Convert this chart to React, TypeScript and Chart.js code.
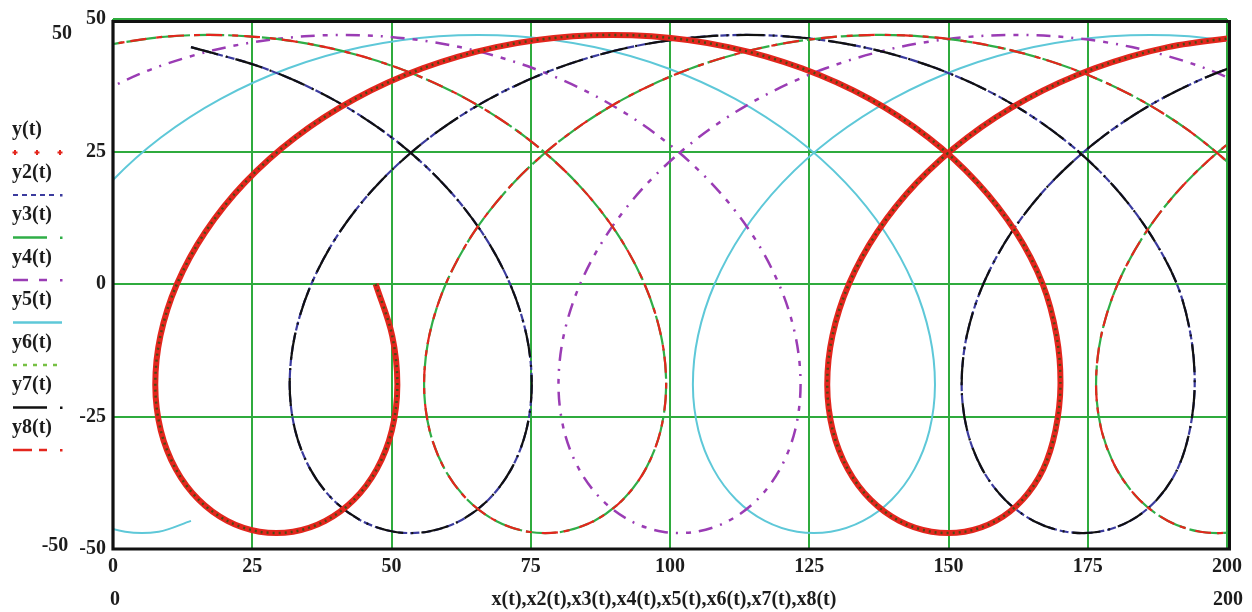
import React, { useEffect, useRef } from 'react';
import { Chart, registerables } from 'chart.js';

Chart.register(...registerables);

// ---- data (trace points, x then y) ----
// y(t)  (red, the y6(t) trace lies exactly on it)
const y1x = [47.16, 50.13, 51.05, 50.06, 47.36, 43.27, 38.12, 32.33, 26.31, 20.52, 15.37, 11.28, 8.58, 7.59, 8.51, 11.48, 16.55, 23.67, 32.71, 43.45, 55.58, 68.77, 82.61, 96.67, 110.51, 123.69, 135.83, 146.4, 155.2, 162.1, 166.9, 169.4, 170.1, 169.2, 167.0, 163.3, 158.5, 152.9, 146.95, 141.16, 136.01, 131.92, 129.22, 128.23, 129.15, 132.12, 137.19, 144.31, 153.35, 164.09, 176.22, 189.41, 203.25];
const y1y = [0, -9.77, -19.12, -27.63, -34.93, -40.7, -44.7, -46.74, -46.74, -44.7, -40.7, -34.93, -27.63, -19.12, -9.77, 0, 9.77, 19.12, 27.63, 34.93, 40.7, 44.7, 46.74, 46.74, 44.7, 40.7, 34.93, 27.63, 19.12, 9.77, 0, -9.77, -19.12, -27.63, -34.93, -40.7, -44.7, -46.74, -46.74, -44.7, -40.7, -34.93, -27.63, -19.12, -9.77, 0, 9.77, 19.12, 27.63, 34.93, 40.7, 44.7, 46.74];

// y2(t) (blue, the black y7(t) trace lies on it)
const y2x = [14.0, 27.18, 39.32, 50.06, 59.1, 66.22, 71.29, 74.26, 75.18, 74.19, 71.49, 67.4, 62.25, 56.46, 50.44, 44.65, 39.5, 35.41, 32.71, 31.72, 32.64, 35.61, 40.68, 47.8, 56.84, 67.58, 79.71, 92.9, 106.74, 120.8, 134.64, 147.82, 159.8, 170.3, 179.1, 186.0, 191.0, 193.5, 194.2, 193.3, 191.1, 187.4, 182.6, 177.0, 171.08, 165.29, 160.14, 156.05, 153.35, 152.36, 153.28, 156.25, 161.32, 168.44, 177.48, 188.22, 200.35, 213.54];
const y2y = [44.7, 40.7, 34.93, 27.63, 19.12, 9.77, 0, -9.77, -19.12, -27.63, -34.93, -40.7, -44.7, -46.74, -46.74, -44.7, -40.7, -34.93, -27.63, -19.12, -9.77, 0, 9.77, 19.12, 27.63, 34.93, 40.7, 44.7, 46.74, 46.74, 44.7, 40.7, 34.93, 27.63, 19.12, 9.77, 0, -9.77, -19.12, -27.63, -34.93, -40.7, -44.7, -46.74, -46.74, -44.7, -40.7, -34.93, -27.63, -19.12, -9.77, 0, 9.77, 19.12, 27.63, 34.93, 40.7, 44.7];

// y3(t) (green, the red y8(t) trace lies on it)
const y3x = [-3.61, 10.23, 24.29, 38.13, 51.31, 63.45, 74.19, 83.23, 90.35, 95.42, 98.39, 99.31, 98.32, 95.62, 91.53, 86.38, 80.59, 74.57, 68.78, 63.63, 59.54, 56.84, 55.85, 56.77, 59.74, 64.81, 71.93, 80.97, 91.71, 103.84, 117.03, 130.87, 144.93, 158.77, 171.95, 184.09, 194.83, 203.87, 210.99, 216.06, 219.03, 219.95, 218.96, 216.26, 212.17, 207.02, 201.23, 195.21, 189.42, 184.27, 180.18, 177.48, 176.49, 177.41, 180.38, 185.45, 192.57, 201.61, 212.35];
const y3y = [44.7, 46.74, 46.74, 44.7, 40.7, 34.93, 27.63, 19.12, 9.77, 0, -9.77, -19.12, -27.63, -34.93, -40.7, -44.7, -46.74, -46.74, -44.7, -40.7, -34.93, -27.63, -19.12, -9.77, 0, 9.77, 19.12, 27.63, 34.93, 40.7, 44.7, 46.74, 46.74, 44.7, 40.7, 34.93, 27.63, 19.12, 9.77, 0, -9.77, -19.12, -27.63, -34.93, -40.7, -44.7, -46.74, -46.74, -44.7, -40.7, -34.93, -27.63, -19.12, -9.77, 0, 9.77, 19.12, 27.63, 34.93];

// y4(t) (purple)
const y4x = [-4.8, 7.34, 20.52, 34.36, 48.42, 62.26, 75.44, 87.58, 98.32, 107.36, 114.48, 119.55, 122.52, 123.44, 122.45, 119.75, 115.66, 110.51, 104.72, 98.7, 92.91, 87.76, 83.67, 80.97, 79.98, 80.9, 83.87, 88.94, 96.06, 105.1, 115.84, 127.97, 141.16, 155.0, 169.06, 182.9, 196.08, 208.22];
const y4y = [34.93, 40.7, 44.7, 46.74, 46.74, 44.7, 40.7, 34.93, 27.63, 19.12, 9.77, 0, -9.77, -19.12, -27.63, -34.93, -40.7, -44.7, -46.74, -46.74, -44.7, -40.7, -34.93, -27.63, -19.12, -9.77, 0, 9.77, 19.12, 27.63, 34.93, 40.7, 44.7, 46.74, 46.74, 44.7, 40.7, 34.93];

// y5(t) (cyan)
const y5x = [14.0, 8.21, 2.19, -3.6, -8.75, -12.84, -15.54, -16.53, -15.61, -12.64, -7.57, -0.45, 8.59, 19.33, 31.47, 44.65, 58.49, 72.55, 86.39, 99.57, 111.71, 122.45, 131.49, 138.61, 143.68, 146.65, 147.57, 146.58, 143.88, 139.79, 134.64, 128.85, 122.83, 117.04, 111.89, 107.8, 105.1, 104.11, 105.03, 108.0, 113.07, 120.19, 129.23, 139.97, 152.1, 165.29, 179.13, 193.19, 207.03];
const y5y = [-44.7, -46.74, -46.74, -44.7, -40.7, -34.93, -27.63, -19.12, -9.77, 0, 9.77, 19.12, 27.63, 34.93, 40.7, 44.7, 46.74, 46.74, 44.7, 40.7, 34.93, 27.63, 19.12, 9.77, 0, -9.77, -19.12, -27.63, -34.93, -40.7, -44.7, -46.74, -46.74, -44.7, -40.7, -34.93, -27.63, -19.12, -9.77, 0, 9.77, 19.12, 27.63, 34.93, 40.7, 44.7, 46.74, 46.74, 44.7];

// y6(t), y7(t), y8(t) coincide with y(t), y2(t), y3(t)
const y6x = y1x; const y6y = y1y;
const y7x = y2x; const y7y = y2y;
const y8x = y3x; const y8y = y3y;

const legendLabels = ['y(t)', 'y2(t)', 'y3(t)', 'y4(t)', 'y5(t)', 'y6(t)', 'y7(t)', 'y8(t)'];
const xAxisTitle = 'x(t),x2(t),x3(t),x4(t),x5(t),x6(t),x7(t),x8(t)';
const xLimitLabels = ['0', '200'];
const yLimitLabels = ['50', '-50'];

const FONT = "'Liberation Serif', 'Times New Roman', serif";
const RED = '#e3261d';
const BLUE = '#3b3b9e';
const GREEN = '#2fae47';
const PURPLE = '#9a3cb4';
const CYAN = '#5ec8d8';
const LGREEN = '#76c043';
const BLACK = '#111111';
const OLIVE = '#4f4a14';
const GRID = '#2fab3e';
const TEXT = '#1c1c1c';

const pts = (xs: number[], ys: number[]) => xs.map((x, i) => ({ x, y: ys[i] }));

const decor = {
  id: 'decor',
  afterDraw(chart: any) {
    const { ctx, chartArea: a } = chart;
    ctx.save();
    // frame
    ctx.strokeStyle = BLACK;
    ctx.lineWidth = 3;
    ctx.setLineDash([]);
    ctx.beginPath();
    ctx.moveTo(a.left, a.top + 2.5);
    ctx.lineTo(a.right + 2.5, a.top + 2.5);
    ctx.lineTo(a.right + 2.5, a.bottom);
    ctx.stroke();
    ctx.lineWidth = 3.2;
    ctx.beginPath();
    ctx.moveTo(a.left, a.top + 1);
    ctx.lineTo(a.left, a.bottom);
    ctx.lineTo(a.right + 4, a.bottom);
    ctx.stroke();

    // limit labels and axis title
    ctx.fillStyle = TEXT;
    ctx.font = `bold 20px ${FONT}`;
    ctx.textAlign = 'center';
    ctx.textBaseline = 'middle';
    ctx.fillText(yLimitLabels[0], 62, 34);
    ctx.fillText(yLimitLabels[1], 55, 546);
    ctx.fillText(xLimitLabels[0], a.left + 2, 600);
    ctx.fillText(xLimitLabels[1], a.right + 1, 600);
    ctx.fillText(xAxisTitle, (a.left + a.right) / 2 - 6, 600);

    // legend
    ctx.textAlign = 'left';
    ctx.font = `bold 20px ${FONT}`;
    legendLabels.forEach((lab, k) => {
      ctx.fillStyle = TEXT;
      ctx.fillText(lab, 12, 130 + 42.5 * k);
      const my = 152.5 + 42.5 * k;
      const seg = (x1: number, x2: number, col: string, w: number, dash: number[] = []) => {
        ctx.strokeStyle = col;
        ctx.lineWidth = w;
        ctx.setLineDash(dash);
        ctx.beginPath();
        ctx.moveTo(x1, my);
        ctx.lineTo(x2, my);
        ctx.stroke();
        ctx.setLineDash([]);
      };
      const dot = (x: number, col: string) => {
        ctx.fillStyle = col;
        ctx.fillRect(x - 1, my - 1, 2.5, 2.5);
      };
      if (k === 0) {
        [15, 37, 60].forEach((x) => {
          ctx.strokeStyle = RED;
          ctx.lineWidth = 2;
          ctx.beginPath();
          ctx.moveTo(x - 2.5, my); ctx.lineTo(x + 2.5, my);
          ctx.moveTo(x, my - 2.5); ctx.lineTo(x, my + 2.5);
          ctx.stroke();
        });
      } else if (k === 1) {
        seg(13, 58, BLUE, 2, [5, 4]);
        dot(61, BLUE);
      } else if (k === 2) {
        seg(13, 47, GREEN, 2.5);
        dot(61, GREEN);
      } else if (k === 3) {
        seg(13, 28, PURPLE, 2.5);
        seg(39, 47, PURPLE, 2.5);
        dot(61, PURPLE);
      } else if (k === 4) {
        seg(13, 62, CYAN, 2.5);
      } else if (k === 5) {
        seg(13, 62, LGREEN, 2.5, [4, 6]);
      } else if (k === 6) {
        seg(13, 47, BLACK, 2.5);
        dot(61, BLACK);
      } else {
        seg(13, 32, RED, 2.5);
        seg(39, 47, RED, 2.5);
        dot(61, RED);
      }
    });
    ctx.restore();
  },
};

const line = (label: string, xs: number[], ys: number[], color: string, width: number, dash: number[], order: number) => ({
  label,
  data: pts(xs, ys),
  showLine: true,
  borderColor: color,
  backgroundColor: color,
  borderWidth: width,
  borderDash: dash,
  pointRadius: 0,
  pointHoverRadius: 0,
  tension: 0.33,
  fill: false,
  clip: 0,
  order,
});

export default function App() {
  const ref = useRef<HTMLCanvasElement>(null);
  useEffect(() => {
    if (!ref.current) return;
    const chart = new Chart(ref.current, {
      type: 'scatter',
      data: {
        datasets: [
          line('y(t)', y1x, y1y, RED, 6, [], 2),
          line('y2(t)', y2x, y2y, BLUE, 2.2, [9, 3], 6),
          line('y3(t)', y3x, y3y, GREEN, 2.2, [30, 4], 4),
          line('y4(t)', y4x, y4y, PURPLE, 2.5, [14, 8, 5, 8, 2, 8], 7),
          line('y5(t)', y5x, y5y, CYAN, 2, [], 8),
          line('y6(t)', y6x, y6y, OLIVE, 2.5, [2, 4], 1),
          line('y7(t)', y7x, y7y, BLACK, 2.2, [28, 8, 2, 8], 5),
          line('y8(t)', y8x, y8y, RED, 2.2, [16, 10, 6, 6], 3),
        ] as any,
      },
      options: {
        animation: false,
        responsive: true,
        maintainAspectRatio: false,
        devicePixelRatio: 1,
        events: [],
        layout: { padding: { top: 17, right: 25, left: 0, bottom: 0 } },
        elements: { line: { capBezierPoints: false } },
        plugins: {
          legend: { display: false },
          tooltip: { enabled: false },
          title: { display: false },
        },
        scales: {
          x: {
            type: 'linear',
            min: 0,
            max: 200,
            afterFit: (s: any) => { s.height = 63; },
            ticks: {
              stepSize: 25,
              padding: 6,
              autoSkip: false,
              maxRotation: 0,
              color: TEXT,
              font: { family: FONT, size: 20, weight: 'bold' },
            },
            grid: { color: GRID, lineWidth: 2, drawTicks: false },
            border: { display: false },
          },
          y: {
            type: 'linear',
            min: -50,
            max: 50,
            afterFit: (s: any) => { s.width = 113; },
            ticks: {
              stepSize: 25,
              padding: 7,
              color: TEXT,
              font: { family: FONT, size: 20, weight: 'bold' },
            },
            grid: { color: GRID, lineWidth: 2, drawTicks: false },
            border: { display: false },
          },
        },
      } as any,
      plugins: [decor],
    });
    return () => chart.destroy();
  }, []);
  return (
    <div style={{ position: 'fixed', left: 0, top: 0, width: 1252, height: 612, background: '#ffffff' }}>
      <canvas ref={ref} />
    </div>
  );
}
